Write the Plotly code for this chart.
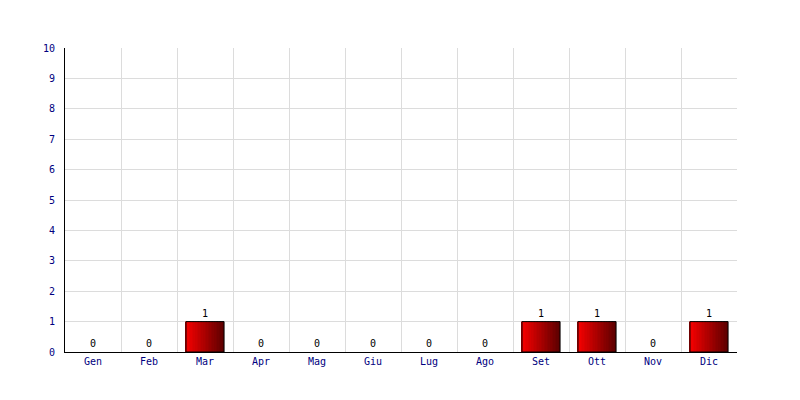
import plotly.graph_objects as go

months = ["Gen", "Feb", "Mar", "Apr", "Mag", "Giu", "Lug", "Ago", "Set", "Ott", "Nov", "Dic"]
values = [0, 0, 1, 0, 0, 0, 0, 0, 1, 1, 0, 1]
y_ticks = list(range(0, 11))

BAR_W = 0.68
N = 24
start = (245, 0, 0)
end = (96, 0, 0)

fig = go.Figure()
sw = BAR_W / N
for i in range(N):
    t = i / (N - 1)
    c = tuple(int(round(start[k] + (end[k] - start[k]) * t)) for k in range(3))
    fig.add_trace(go.Bar(
        x=months, y=values, width=sw * 1.05, offset=-BAR_W / 2 + i * sw,
        marker=dict(color="rgb(%d,%d,%d)" % c, line=dict(width=0)),
        hoverinfo="skip", showlegend=False,
    ))

fig.add_trace(go.Bar(
    x=months, y=values, width=BAR_W,
    marker=dict(color="rgba(0,0,0,0)",
                line=dict(color="black", width=[1 if v else 0 for v in values])),
    text=[str(v) for v in values], textposition="outside",
    textfont=dict(family="DejaVu Sans Mono", size=10, color="black"),
    cliponaxis=False, showlegend=False,
))

fig.update_layout(
    width=784, height=384,
    margin=dict(l=57, r=55, t=40, b=40),
    paper_bgcolor="white", plot_bgcolor="white",
    barmode="overlay", bargap=0.32,
    font=dict(family="DejaVu Sans Mono", size=10, color="#000080"),
)
fig.update_xaxes(
    type="category", tickson="boundaries", showgrid=True, gridcolor="#dcdcdc", gridwidth=1,
    ticks="", showline=True, linecolor="black", linewidth=1,
    tickfont=dict(family="DejaVu Sans Mono", size=10, color="#000080"),
    range=[-0.5, 11.5],
)
fig.update_yaxes(
    range=[0, 10], tickvals=y_ticks, showgrid=True, gridcolor="#dcdcdc", gridwidth=1,
    showline=True, linecolor="black", linewidth=1, ticks="", zeroline=False,
    tickfont=dict(family="DejaVu Sans Mono", size=10, color="#000080"),
    ticklabelstandoff=7,
)
fig.write_html("out.html")
